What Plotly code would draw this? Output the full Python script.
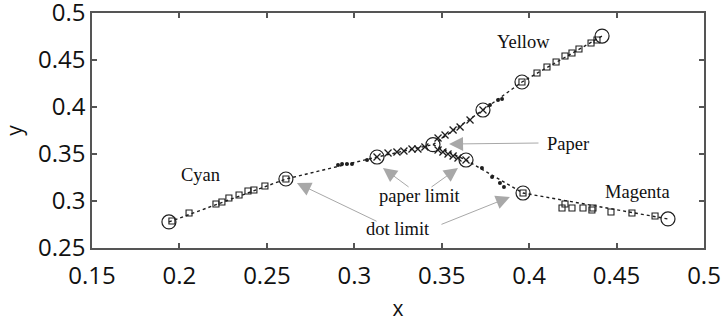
import plotly.graph_objects as go

# ---- data ----
# dotted guide curves for the three branches
cyan_line_x = [0.194, 0.2609, 0.313, 0.345]
cyan_line_y = [0.2777, 0.3234, 0.3468, 0.3600]
yellow_line_x = [0.345, 0.3736, 0.3959, 0.4417]
yellow_line_y = [0.3600, 0.3968, 0.4266, 0.4755]
magenta_line_x = [0.345, 0.3639, 0.3965, 0.4794]
magenta_line_y = [0.3600, 0.3436, 0.3085, 0.2809]

# open squares
square_x = [0.1957, 0.2055, 0.2209, 0.2243, 0.2283, 0.2341, 0.2392, 0.2426, 0.2489, 0.2609,
            0.3959, 0.4045, 0.4102, 0.4154, 0.4205, 0.4245, 0.4285, 0.4354, 0.4388,
            0.3965, 0.4188, 0.4205, 0.4245, 0.4308, 0.4359, 0.4365, 0.4468, 0.4588, 0.4720]
square_y = [0.2787, 0.2872, 0.2968, 0.2989, 0.3032, 0.3064, 0.3106, 0.3117, 0.3160, 0.3234,
            0.4266, 0.4362, 0.4426, 0.4479, 0.4543, 0.4574, 0.4617, 0.4681, 0.4713,
            0.3085, 0.2926, 0.2968, 0.2926, 0.2926, 0.2904, 0.2926, 0.2883, 0.2872, 0.2840]

# crosses
cross_x = [0.313, 0.3193, 0.3244, 0.3284, 0.3330, 0.3364, 0.3404,
           0.3479, 0.3519, 0.3565, 0.3605, 0.3662, 0.3736,
           0.3479, 0.3507, 0.3536, 0.3565, 0.3593, 0.3639]
cross_y = [0.3468, 0.3511, 0.3521, 0.3532, 0.3553, 0.3553, 0.3574,
           0.3670, 0.3702, 0.3755, 0.3787, 0.3862, 0.3968,
           0.3543, 0.3521, 0.3500, 0.3479, 0.3457, 0.3436]

# small filled dots
dot_x = [0.2907, 0.2930, 0.2958, 0.2987, 0.3073,
         0.3776, 0.3822, 0.3845,
         0.3730, 0.3788, 0.3833, 0.3856]
dot_y = [0.3383, 0.3394, 0.3394, 0.3394, 0.3436,
         0.4021, 0.4074, 0.4085,
         0.3350, 0.3255, 0.3191, 0.3149]

# large open circles (limits)
circle_x = [0.194, 0.2609, 0.313, 0.345, 0.3736, 0.3959, 0.4417, 0.3639, 0.3965, 0.4794]
circle_y = [0.2777, 0.3234, 0.3468, 0.3600, 0.3968, 0.4266, 0.4755, 0.3436, 0.3085, 0.2809]

# labels
label_text = ["Cyan", "Yellow", "Paper", "Magenta", "paper limit", "dot limit"]
label_x = [0.2123, 0.3965, 0.4222, 0.4617, 0.3376, 0.3250]
label_y = [0.3277, 0.4690, 0.3606, 0.3096, 0.3053, 0.2702]

# arrows: tail -> head
arrow_tail_x = [0.4062, 0.3319, 0.3433, 0.3136, 0.3490]
arrow_tail_y = [0.3617, 0.3138, 0.3138, 0.2777, 0.2745]
arrow_head_x = [0.3542, 0.3164, 0.3593, 0.2672, 0.3890]
arrow_head_y = [0.3606, 0.3351, 0.3351, 0.3191, 0.3043]

x_ticks = [0.15, 0.2, 0.25, 0.3, 0.35, 0.4, 0.45, 0.5]
x_tick_text = ["0.15", "0.2", "0.25", "0.3", "0.35", "0.4", "0.45", "0.5"]
y_ticks = [0.25, 0.3, 0.35, 0.4, 0.45, 0.5]
y_tick_text = ["0.25", "0.3", "0.35", "0.4", "0.45", "0.5"]

fig = go.Figure()
ink = "#1e1e1e"
for lx, ly in [(cyan_line_x, cyan_line_y), (yellow_line_x, yellow_line_y), (magenta_line_x, magenta_line_y)]:
    fig.add_trace(go.Scatter(x=lx, y=ly, mode="lines",
                             line=dict(color=ink, width=1.4, dash="dot"), hoverinfo="skip"))

fig.add_trace(go.Scatter(x=square_x, y=square_y, mode="markers",
                         marker=dict(symbol="square-open", size=6, color=ink, line=dict(width=1.1, color=ink))))
fig.add_trace(go.Scatter(x=cross_x, y=cross_y, mode="markers",
                         marker=dict(symbol="x-thin-open", size=7, color=ink, line=dict(width=1.3, color=ink))))
fig.add_trace(go.Scatter(x=dot_x, y=dot_y, mode="markers",
                         marker=dict(symbol="circle", size=4, color=ink)))
fig.add_trace(go.Scatter(x=circle_x, y=circle_y, mode="markers",
                         marker=dict(symbol="circle-open", size=14, color=ink, line=dict(width=1.2, color=ink))))

for t, x, y in zip(label_text, label_x, label_y):
    fig.add_annotation(x=x, y=y, text=t, showarrow=False,
                       font=dict(family="Liberation Serif", size=18.5, color="#111"))

for tx, ty, hx, hy in zip(arrow_tail_x, arrow_tail_y, arrow_head_x, arrow_head_y):
    fig.add_annotation(x=hx, y=hy, ax=tx, ay=ty, xref="x", yref="y", axref="x", ayref="y",
                       text="", showarrow=True, arrowhead=2, arrowsize=2.8, arrowwidth=1,
                       arrowcolor="#a8a8a8", standoff=0)

axis_common = dict(showgrid=False, zeroline=False, showline=True, linecolor="#555", linewidth=1.5,
                   mirror="allticks", ticks="inside", ticklen=5, tickcolor="#555", tickwidth=1.5,
                   automargin=False, ticklabeloverflow="allow",
                   tickfont=dict(family="Open Sans", size=24, color="#111"))

fig.update_layout(
    width=723, height=324,
    margin=dict(l=92, r=19, t=13, b=76),
    paper_bgcolor="white", plot_bgcolor="white",
    showlegend=False,
    xaxis=dict(range=[0.15, 0.5], tickvals=x_ticks, ticktext=x_tick_text, ticklabelstandoff=5,
               title=dict(text="x", font=dict(family="Open Sans", size=21, color="#111"), standoff=12),
               **axis_common),
    yaxis=dict(range=[0.25, 0.5], tickvals=y_ticks, ticktext=y_tick_text,
               title=dict(text="y", font=dict(family="Open Sans", size=21, color="#111"), standoff=14),
               **axis_common),
)

fig.write_html("out.html", config={"displayModeBar": False},
               post_script="document.body.style.margin='0';")
